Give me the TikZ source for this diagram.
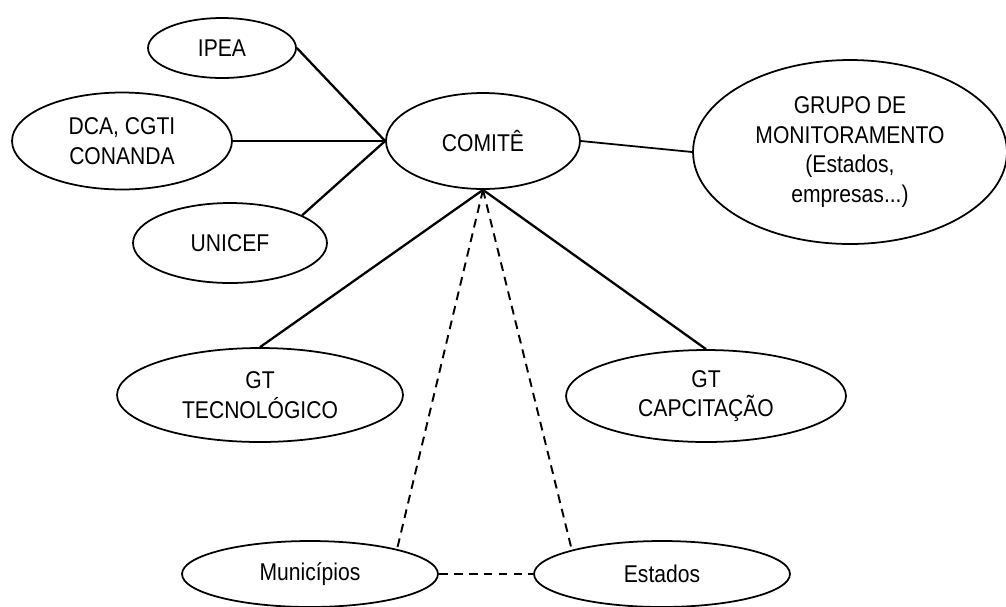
\documentclass[tikz,border=0pt]{standalone}
\usepackage{fontspec}
\setmainfont{Liberation Sans}[FakeStretch=0.87]
\usetikzlibrary{shapes,positioning}

\begin{document}
\begin{tikzpicture}[
		x=0.02cm,y=-0.02cm,
		ell/.style={
		  draw,
		  ellipse,
		  line width=1pt,
		  inner sep=0pt,
		  align=center,
		  font=\fontsize{13.8}{16.8}\selectfont
		},
		lnk/.style={line width=1.3pt},
		thin lnk/.style={line width=1pt},
		dsh/.style={line width=1.1pt,dash pattern=on 5pt off 3.5pt}
		]
		\useasboundingbox (0,0) rectangle (1006,606);

		\node[ell,minimum width=2.96cm,minimum height=1.2cm] at (222,48)
		  (ipea) {IPEA};
		\node[ell,minimum width=4.4cm,minimum height=1.94cm] at (122,141)
		  (dca) {DCA, CGTI\\CONANDA};
		\node[ell,minimum width=3.88cm,minimum height=1.6cm] at (230,243)
		  (unicef) {UNICEF};
		\node[ell,minimum width=3.88cm,minimum height=1.92cm] at (483,141)
		  (comite) {COMITÊ};
		\node[ell,minimum width=6.28cm,minimum height=3.68cm] at (850,152)
		  (grupo) {GRUPO DE\\MONITORAMENTO\\(Estados,\\empresas...)};
		\node[ell,minimum width=5.72cm,minimum height=1.88cm] at (260,395)
		  (gttec) {GT\\TECNOLÓGICO};
		\node[ell,minimum width=5.6cm,minimum height=1.84cm] at (706,396)
		  (gtcap) {GT\\CAPCITAÇÃO};
		\node[ell,minimum width=5.12cm,minimum height=1.32cm] at (310,574)
		  (mun) {Municípios};
		\node[ell,minimum width=5.12cm,minimum height=1.32cm] at (662,574)
		  (est) {Estados};

		\draw[lnk] (ipea.east) -- (comite.west);
		\draw[thin lnk] (dca.east) -- (comite.west);
		\draw[lnk] (unicef.21) -- (comite.west);
		\draw[thin lnk] (comite.east) -- (grupo.west);

		\draw[lnk] (comite.south) -- (gttec.north);
		\draw[lnk] (comite.south) -- (gtcap.north);

		\draw[dsh] (comite.south) -- (mun.16);
		\draw[dsh] (comite.south) -- (est.165);
		\draw[dsh] (mun.east) -- (est.west);
	\end{tikzpicture}
\end{document}
